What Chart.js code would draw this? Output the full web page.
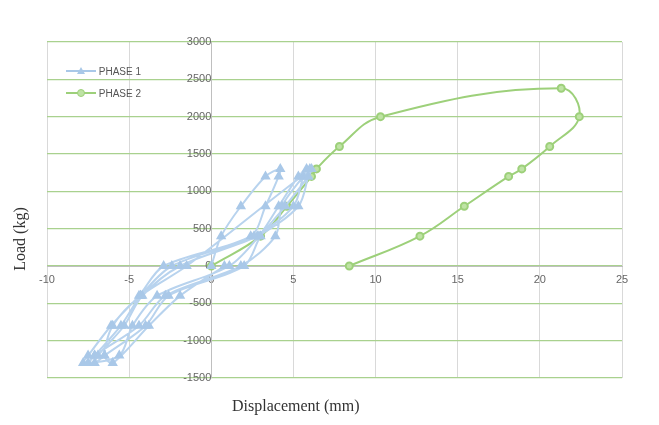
<!DOCTYPE html>
<html><head><script src="https://cdn.jsdelivr.net/npm/chart.js@4"></script>
<style>body{margin:0;background:#fff;font-family:"Liberation Sans",Arial}#w{position:relative;width:659px;height:425px}
.t{position:absolute;font-family:"Liberation Serif","Times New Roman";font-size:16px;color:#333;white-space:nowrap}
#lg{position:absolute;left:66px;top:60px;font-size:10px;color:#555}
#lg div{display:flex;align-items:center;height:22px}
</style></head><body><div id="w"><canvas id="c" width="659" height="425"></canvas>
<div class="t" style="left:232px;top:397px">Displacement (mm)</div>
<div class="t" style="left:-20px;top:230px;width:80px;text-align:center;transform:rotate(-90deg)">Load (kg)</div>
<div id="lg"><div><svg width="30" height="10"><line x1="0" y1="5" x2="30" y2="5" stroke="#a9c8e8" stroke-width="2"/><polygon points="15,1 19,8 11,8" fill="#a9c8e8"/></svg>&nbsp;PHASE 1</div>
<div><svg width="30" height="10"><line x1="0" y1="5" x2="30" y2="5" stroke="#9dd07a" stroke-width="2"/><circle cx="15" cy="5" r="3.5" fill="#bfe3a5" stroke="#9dd07a"/></svg>&nbsp;PHASE 2</div></div>
</div>
<script>
const phase1X=[0,0.6,1.8,3.3,4.2,4.1,3.3,2.4,-2.9,-4.4,-6.1,-7.5,-7.8,-5.6,-4.8,-3.3,1.1,2.9,4.1,5.3,5.8,5.6,5.0,2.6,-2.4,-4.3,-5.5,-7.1,-7.5,-7.1,-4.4,-2.8,1.8,3.9,4.3,5.6,6.0,5.9,5.3,2.8,-1.9,-4.2,-5.3,-6.9,-7.1,-6.5,-4.0,-2.6,2.0,3.0,4.5,5.9,6.1,-1.5,-4.3,-6.0,-6.5,-6.0,-3.8,-1.9,0.8];
const phase1Y=[0,400,800,1200,1300,1200,800,400,0,-400,-800,-1200,-1300,-1200,-800,-400,0,400,800,1200,1300,1200,800,400,0,-400,-800,-1200,-1300,-1200,-800,-400,0,400,800,1200,1300,1200,800,400,0,-400,-800,-1200,-1300,-1200,-800,-400,0,400,800,1200,1300,0,-400,-800,-1200,-1300,-800,-400,0];
const phase2X=[0,3,4.6,6.1,6.4,7.8,10.3,21.3,22.4,20.6,18.9,18.1,15.4,12.7,8.4];
const phase2Y=[0,400,800,1200,1300,1600,2000,2380,2000,1600,1300,1200,800,400,0];
const xTicks=[-10,-5,0,5,10,15,20,25];
const zip=(a,b)=>a.map((v,i)=>({x:v,y:b[i]}));
new Chart(document.getElementById('c'),{type:'scatter',data:{datasets:[
{label:'PHASE 1',data:zip(phase1X,phase1Y),showLine:true,tension:0.3,borderColor:'#b8d3ee',backgroundColor:'#a9c8e8',borderWidth:2,pointStyle:'triangle',pointRadius:4,pointBorderColor:'#a9c8e8'},
{label:'PHASE 2',data:zip(phase2X,phase2Y),showLine:true,tension:0.4,borderColor:'#9dd07a',backgroundColor:'#bfe3a5',borderWidth:2,pointRadius:3.5,pointBorderColor:'#9dd07a'}]},
options:{responsive:false,animation:false,layout:{padding:{left:47,right:37,top:42,bottom:47}},
plugins:{legend:{display:false},tooltip:{enabled:false}},
scales:{x:{min:-10,max:25,position:{y:0},afterBuildTicks:s=>{s.ticks=xTicks.map(v=>({value:v}))},grid:{color:'#d9d9d9',drawTicks:false},border:{color:'#bfbfbf'},ticks:{color:'#666',font:{size:11,family:'Liberation Sans'},padding:7}},
y:{min:-1500,max:3000,position:{x:0},ticks:{stepSize:500,color:'#666',font:{size:11,family:'Liberation Sans'},padding:5,callback:v=>String(v)},grid:{color:'#a9d18e',lineWidth:1.2,drawTicks:false},border:{color:'#bfbfbf'}}}}});
</script></body></html>
